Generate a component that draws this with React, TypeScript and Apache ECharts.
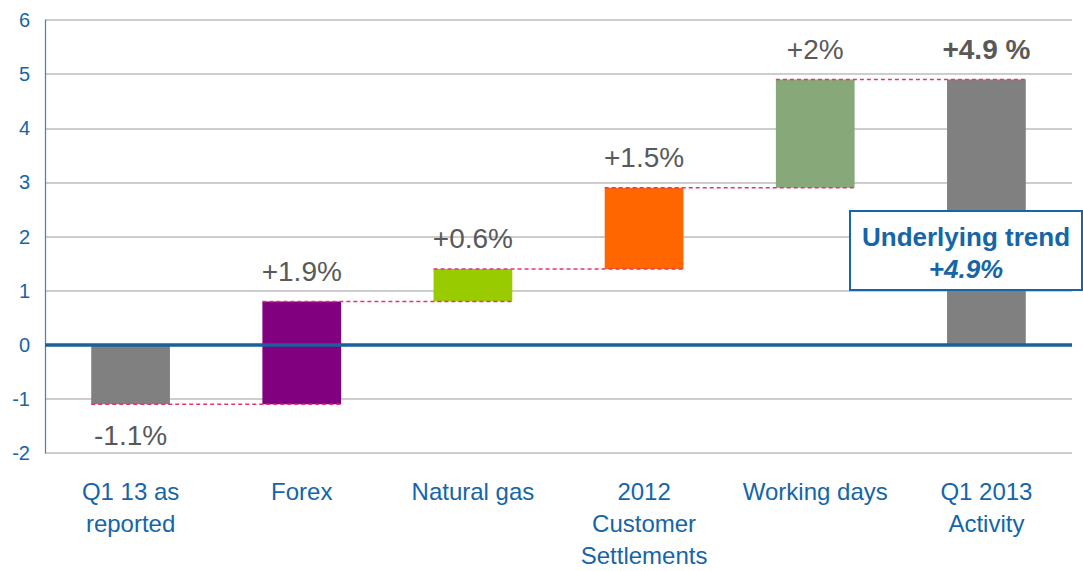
import React, { useEffect, useRef } from "react";
import * as echarts from "echarts";

const categories = [
  "Q1 13 as\nreported",
  "Forex",
  "Natural gas",
  "2012\nCustomer\nSettlements",
  "Working days",
  "Q1 2013\nActivity",
];
const barStart = [0, -1.1, 0.8, 1.4, 2.9, 0];
const barEnd = [-1.1, 0.8, 1.4, 2.9, 4.9, 4.9];
const valueLabels = ["-1.1%", "+1.9%", "+0.6%", "+1.5%", "+2%", "+4.9 %"];
const boldLabel = [false, false, false, false, false, true];
const barColors = ["#808080", "#800080", "#99cc00", "#ff6600", "#87a878", "#808080"];
const connectorLevels = [-1.1, 0.8, 1.4, 2.9, 4.9];
const yTicks = { min: -2, max: 6, interval: 1 };
const boxLine1 = "Underlying trend";
const boxLine2 = "+4.9%";

const FONT = "'Liberation Sans', Arial, sans-serif";
const BLUE = "#1565a8";

export default function App() {
  const ref = useRef<HTMLDivElement>(null);
  useEffect(() => {
    document.body.style.margin = "0";
    const chart = echarts.init(ref.current!, null, { renderer: "svg" });
    const BAR_RATIO = 0.46;
    chart.setOption({
      animation: false,
      backgroundColor: "#ffffff",
      textStyle: { fontFamily: FONT },
      grid: { left: 45, right: 11, top: 20, bottom: 116 },
      xAxis: {
        type: "category",
        data: categories,
        boundaryGap: true,
        axisLine: { show: false },
        axisTick: { show: false },
        axisLabel: {
          color: BLUE,
          fontSize: 24,
          lineHeight: 32,
          margin: 22,
          fontFamily: FONT,
          interval: 0,
        },
      },
      yAxis: {
        type: "value",
        min: yTicks.min,
        max: yTicks.max,
        interval: yTicks.interval,
        axisLine: { show: true, lineStyle: { color: "#4a7fb5", width: 1.2 } },
        axisTick: { show: false },
        axisLabel: { color: BLUE, fontSize: 20, margin: 15, fontFamily: FONT },
        splitLine: { lineStyle: { color: "#bdbdbd", width: 1.5 } },
      },
      series: [
        {
          type: "custom",
          z: 2,
          data: categories.map((_, i) => [i, barStart[i], barEnd[i]]),
          encode: { x: 0, y: [1, 2] },
          renderItem: (params: any, api: any) => {
            const i = api.value(0);
            const s = api.value(1);
            const e = api.value(2);
            const p1 = api.coord([i, s]);
            const p2 = api.coord([i, e]);
            const w = api.size([1, 0])[0] * BAR_RATIO;
            const top = Math.min(p1[1], p2[1]);
            const bottom = Math.max(p1[1], p2[1]);
            const neg = e < 0;
            const idx = params.dataIndex;
            return {
              type: "group",
              children: [
                {
                  type: "rect",
                  shape: { x: p1[0] - w / 2, y: top, width: w, height: bottom - top },
                  style: { fill: barColors[idx] },
                },
                {
                  type: "text",
                  x: p1[0],
                  y: neg ? bottom + 31 : top - 30,
                  style: {
                    text: valueLabels[idx],
                    fill: "#595959",
                    fontSize: 28,
                    fontWeight: boldLabel[idx] ? "bold" : "normal",
                    fontFamily: FONT,
                    align: "center",
                    verticalAlign: "middle",
                  },
                },
              ],
            };
          },
          markLine: {
            silent: true,
            symbol: "none",
            label: { show: false },
            lineStyle: { color: "#1a5f9e", width: 3.5, type: "solid" },
            data: [{ yAxis: 0 }],
          },
        },
        {
          type: "custom",
          z: 3,
          data: connectorLevels.map((v, i) => [i, v]),
          encode: { x: 0, y: 1 },
          renderItem: (params: any, api: any) => {
            const i = api.value(0);
            const v = api.value(1);
            const a = api.coord([i, v]);
            const b = api.coord([i + 1, v]);
            const w = api.size([1, 0])[0] * BAR_RATIO;
            return {
              type: "line",
              shape: { x1: a[0] - w / 2, y1: a[1], x2: b[0] + w / 2, y2: b[1] },
              style: { stroke: "#e6307a", lineWidth: 1.5, lineDash: [4, 3] },
            };
          },
        },
      ],
      graphic: {
        elements: [
          {
            type: "group",
            left: 849,
            top: 210,
            zlevel: 1,
            z: 100,
            children: [
              {
                type: "rect",
                z: 100,
                zlevel: 1,
                shape: { x: 0, y: 0, width: 232, height: 79 },
                style: { fill: "#ffffff", stroke: BLUE, lineWidth: 2 },
              },
              {
                type: "text",
                z: 101,
                zlevel: 1,
                x: 116,
                y: 26,
                style: {
                  text: boxLine1,
                  fill: BLUE,
                  fontSize: 26,
                  fontWeight: "bold",
                  fontFamily: FONT,
                  align: "center",
                  verticalAlign: "middle",
                },
              },
              {
                type: "text",
                z: 101,
                zlevel: 1,
                x: 116,
                y: 58,
                style: {
                  text: boxLine2,
                  fill: BLUE,
                  fontSize: 26,
                  fontWeight: "bold",
                  fontStyle: "italic",
                  fontFamily: FONT,
                  align: "center",
                  verticalAlign: "middle",
                },
              },
            ],
          },
        ],
      },
    });
    return () => chart.dispose();
  }, []);
  return <div ref={ref} style={{ width: 1083, height: 571 }} />;
}
